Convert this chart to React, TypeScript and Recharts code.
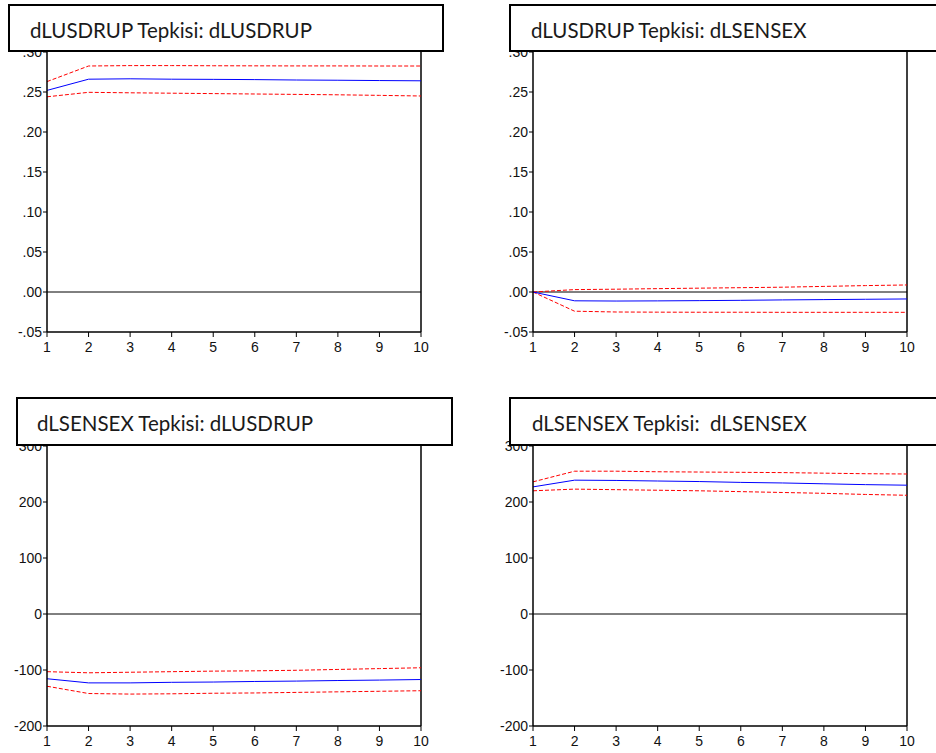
import { LineChart, Line, XAxis, YAxis, ReferenceLine } from "recharts";

const periods = [1, 2, 3, 4, 5, 6, 7, 8, 9, 10];

// dLUSDRUP response to dLUSDRUP
const usdUsdMid = [0.252, 0.266, 0.2665, 0.266, 0.2658, 0.2655, 0.265, 0.2647, 0.2643, 0.264];
const usdUsdUp = [0.263, 0.2825, 0.283, 0.283, 0.2828, 0.2827, 0.2826, 0.2826, 0.2825, 0.2825];
const usdUsdLo = [0.244, 0.2496, 0.249, 0.2485, 0.248, 0.2475, 0.247, 0.2465, 0.2458, 0.245];

// dLUSDRUP response to dLSENSEX
const usdSenMid = [0, -0.011, -0.0113, -0.0111, -0.0108, -0.0104, -0.0099, -0.0095, -0.0091, -0.0087];
const usdSenUp = [0, 0.003, 0.0035, 0.0042, 0.0048, 0.0054, 0.006, 0.007, 0.008, 0.0088];
const usdSenLo = [0, -0.024, -0.025, -0.0252, -0.0253, -0.0253, -0.0254, -0.0254, -0.0254, -0.0254];

// dLSENSEX response to dLUSDRUP
const senUsdMid = [-115.6, -123, -123, -122, -121.5, -120.5, -119.8, -118.8, -118, -117];
const senUsdUp = [-103, -105, -104, -103, -102, -101.5, -100.5, -99, -97.5, -96];
const senUsdLo = [-129, -142, -143, -142.5, -141.5, -141, -140, -139, -138, -137];

// dLSENSEX response to dLSENSEX
const senSenMid = [227, 239, 238.5, 237.5, 236.5, 235, 234, 232.5, 231, 230];
const senSenUp = [236, 255, 255, 254, 253.5, 253, 252.5, 251.5, 250.5, 250];
const senSenLo = [220, 223, 222, 221, 220, 218.5, 217, 215.5, 213.5, 212];

const smallTicks = [-0.05, 0, 0.05, 0.1, 0.15, 0.2, 0.25, 0.3];
const bigTicks = [-200, -100, 0, 100, 200, 300];

const titles = [
  "dLUSDRUP Tepkisi: dLUSDRUP",
  "dLUSDRUP Tepkisi: dLSENSEX",
  "dLSENSEX Tepkisi: dLUSDRUP",
  "dLSENSEX Tepkisi:  dLSENSEX",
];

const build = (mid: number[], up: number[], lo: number[]) =>
  periods.map((p, i) => ({ p, mid: mid[i], up: up[i], lo: lo[i] }));

const fmtSmall = (v: number) => {
  const s = Math.abs(v).toFixed(2).replace(/^0/, "");
  return v < 0 ? "-" + s : s;
};

const tickStyle = { fontFamily: "Liberation Sans", fontSize: 14, fill: "#111" };

function Panel(props: {
  left: number;
  top: number;
  width: number;
  data: any[];
  domain: [number, number];
  ticks: number[];
  fmt?: (v: number) => string;
}) {
  const { left, top, width, data, domain, ticks, fmt } = props;
  return (
    <div style={{ position: "absolute", left, top }}>
      <LineChart
        width={width}
        height={362}
        data={data}
        margin={{ top: 52, right: width - 421, left: 7, bottom: 0 }}
      >
        <XAxis
          dataKey="p"
          type="number"
          domain={[1, 10]}
          ticks={periods}
          interval={0}
          height={30}
          tickSize={5}
          tickMargin={5}
          tick={tickStyle}
          axisLine={{ stroke: "#000", strokeWidth: 1.5 }}
          tickLine={{ stroke: "#000" }}
        />
        <YAxis
          type="number"
          domain={domain}
          ticks={ticks}
          interval={0}
          width={40}
          tickSize={4}
          tickMargin={1}
          tickFormatter={fmt}
          tick={tickStyle}
          axisLine={{ stroke: "#000", strokeWidth: 1.5 }}
          tickLine={{ stroke: "#000" }}
          allowDataOverflow
        />
        <ReferenceLine y={0} stroke="#000" strokeWidth={1} />
        <ReferenceLine x={10} stroke="#000" strokeWidth={1.5} />
        <Line dataKey="up" stroke="#ff0000" strokeDasharray="4 2" strokeWidth={1} dot={false} isAnimationActive={false} />
        <Line dataKey="lo" stroke="#ff0000" strokeDasharray="4 2" strokeWidth={1} dot={false} isAnimationActive={false} />
        <Line dataKey="mid" stroke="#0000ff" strokeWidth={1} dot={false} isAnimationActive={false} />
      </LineChart>
    </div>
  );
}

function TitleBox(props: { left: number; top: number; width: number; height: number; padLeft: number; text: string }) {
  const { left, top, width, height, padLeft, text } = props;
  return (
    <div
      style={{
        position: "absolute",
        left,
        top,
        width,
        height,
        boxSizing: "border-box",
        border: "2px solid #000",
        background: "#fff",
        paddingLeft: padLeft,
        paddingTop: 3,
        display: "flex",
        alignItems: "center",
        fontFamily: "Lato, Open Sans, sans-serif",
        fontSize: 20.5,
        color: "#1a1a1a",
        whiteSpace: "pre",
      }}
    >
      {text}
    </div>
  );
}

export default function App() {
  return (
    <div
      style={{
        position: "absolute",
        left: 0,
        top: 0,
        width: 936,
        height: 753,
        overflow: "hidden",
        background: "#fff",
      }}
    >
      <Panel left={0} top={0} width={440} data={build(usdUsdMid, usdUsdUp, usdUsdLo)} domain={[-0.05, 0.3]} ticks={smallTicks} fmt={fmtSmall} />
      <Panel left={486} top={0} width={440} data={build(usdSenMid, usdSenUp, usdSenLo)} domain={[-0.05, 0.3]} ticks={smallTicks} fmt={fmtSmall} />
      <Panel left={0} top={394} width={440} data={build(senUsdMid, senUsdUp, senUsdLo)} domain={[-200, 300]} ticks={bigTicks} />
      <Panel left={486} top={394} width={440} data={build(senSenMid, senSenUp, senSenLo)} domain={[-200, 300]} ticks={bigTicks} />
      <TitleBox left={8} top={4} width={436} height={48} padLeft={20} text={titles[0]} />
      <TitleBox left={509} top={4} width={440} height={48} padLeft={20} text={titles[1]} />
      <TitleBox left={16} top={397} width={437} height={49} padLeft={19} text={titles[2]} />
      <TitleBox left={509} top={397} width={440} height={49} padLeft={21} text={titles[3]} />
    </div>
  );
}
